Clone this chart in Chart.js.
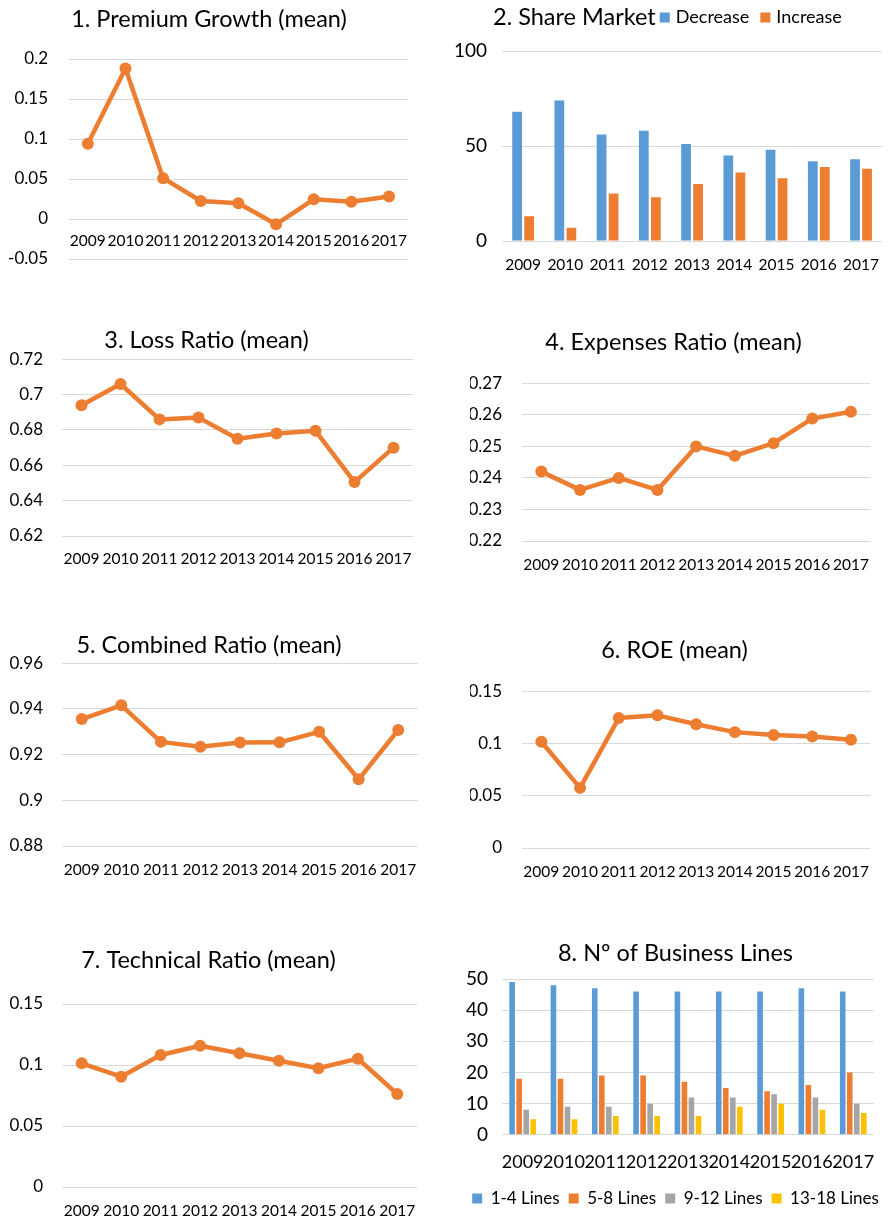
<!DOCTYPE html>
<html>
<head>
<meta charset="utf-8">
<title>Insurance sector indicators 2009-2017</title>
<script src="https://cdn.jsdelivr.net/npm/chart.js@4.4.1/dist/chart.umd.min.js"></script>
<style>
  html, body { margin: 0; padding: 0; background: #ffffff; }
  body { width: 894px; height: 1221px; position: relative; overflow: hidden; }
  canvas { position: absolute; display: block; }
</style>
</head>
<body>
<canvas id="c1"></canvas>
<canvas id="c2"></canvas>
<canvas id="c3"></canvas>
<canvas id="c4"></canvas>
<canvas id="c5"></canvas>
<canvas id="c6"></canvas>
<canvas id="c7"></canvas>
<canvas id="c8"></canvas>
<script>
// ---- data ----
const years = ['2009', '2010', '2011', '2012', '2013', '2014', '2015', '2016', '2017'];

const premiumGrowth  = [0.094, 0.188, 0.051, 0.0225, 0.0196, -0.0066, 0.0246, 0.0216, 0.028];
const shareDecrease  = [68, 74, 56, 58, 51, 45, 48, 42, 43];
const shareIncrease  = [13, 7, 25, 23, 30, 36, 33, 39, 38];
const lossRatio      = [0.694, 0.706, 0.686, 0.687, 0.675, 0.678, 0.6795, 0.6505, 0.670];
const expensesRatio  = [0.242, 0.2362, 0.240, 0.2362, 0.250, 0.247, 0.251, 0.2588, 0.261];
const combinedRatio  = [0.9356, 0.9416, 0.9256, 0.9235, 0.9253, 0.9254, 0.930, 0.9092, 0.9308];
const roe            = [0.102, 0.0577, 0.1247, 0.1273, 0.1187, 0.1112, 0.1084, 0.1071, 0.1038];
const technicalRatio = [0.1014, 0.0904, 0.1082, 0.1158, 0.1096, 0.1035, 0.0973, 0.1052, 0.0762];
const lines1to4      = [49, 48, 47, 46, 46, 46, 46, 47, 46];
const lines5to8      = [18, 18, 19, 19, 17, 15, 14, 16, 20];
const lines9to12     = [8, 9, 9, 10, 12, 12, 13, 12, 10];
const lines13to18    = [5, 5, 6, 6, 6, 9, 10, 8, 7];

// y-axis tick values per panel
const premiumTicks   = [-0.05, 0, 0.05, 0.1, 0.15, 0.2];
const shareTicks     = [0, 50, 100];
const lossTicks      = [0.62, 0.64, 0.66, 0.68, 0.7, 0.72];
const expensesTicks  = [0.22, 0.23, 0.24, 0.25, 0.26, 0.27];
const combinedTicks  = [0.88, 0.9, 0.92, 0.94, 0.96];
const roeTicks       = [0, 0.05, 0.1, 0.15];
const technicalTicks = [0, 0.05, 0.1, 0.15];
const linesTicks     = [0, 10, 20, 30, 40, 50];

// ---- styling ----
const BLUE = '#5B9BD5', ORANGE = '#ED7D31', GRAY = '#A5A5A5', YELLOW = '#FFC000';
const GRID = '#D9D9D9';
const FONT = 'Lato, "Open Sans", sans-serif';
const TITLE_SIZE = 23.5;

Chart.defaults.font.family = FONT;
Chart.defaults.color = '#000000';

function placeCanvas(id, g) {
  const c = document.getElementById(id);
  c.width = g.w; c.height = g.h;
  c.style.left = g.x + 'px'; c.style.top = g.y + 'px';
  c.style.width = g.w + 'px'; c.style.height = g.h + 'px';
  return c;
}

function yScale(ticks, g) {
  return {
    min: ticks[0],
    max: ticks[ticks.length - 1],
    grid: { color: GRID, lineWidth: 1, drawTicks: false },
    border: { display: false },
    ticks: { autoSkip: false, padding: g.yPad, font: { size: g.yFont }, color: '#000', callback: v => String(v) },
    afterBuildTicks: s => { s.ticks = ticks.map(v => ({ value: v })); },
    afterFit: s => { s.width = g.yW; }
  };
}

function xScale(g) {
  const sc = {
    offset: true,
    grid: { display: false, drawTicks: false },
    border: { display: false },
    ticks: { autoSkip: false, maxRotation: 0, padding: g.xPad, font: { size: g.xFont }, color: '#000' }
  };
  if (g.xAtZero) {
    sc.position = { y: 0 };
  } else {
    sc.afterFit = s => { s.height = g.xH; };
  }
  return sc;
}

function titleOpts(text, g) {
  return {
    display: true, text, color: '#000',
    font: { size: TITLE_SIZE, weight: 'normal' },
    padding: { top: g.tTop, bottom: g.tBottom }
  };
}

function lineChart(id, g, title, values, ticks) {
  return new Chart(placeCanvas(id, g), {
    type: 'line',
    data: {
      labels: years,
      datasets: [{
        data: values,
        borderColor: ORANGE,
        backgroundColor: ORANGE,
        borderWidth: 4.5,
        borderJoinStyle: 'round',
        borderCapStyle: 'round',
        pointRadius: 6,
        pointHoverRadius: 6,
        pointBorderWidth: 0,
        pointBackgroundColor: ORANGE,
        tension: 0
      }]
    },
    options: {
      responsive: false, animation: false, events: [],
      layout: { padding: { left: 0, top: 0, right: g.padR, bottom: g.padB || 0 } },
      plugins: { legend: { display: false }, tooltip: { enabled: false }, title: titleOpts(title, g) },
      scales: { x: xScale(g), y: yScale(ticks, g) }
    }
  });
}

// Title and legend drawn on one row, as in the "Share Market" header
const inlineHeader = {
  id: 'inlineHeader',
  afterDraw(chart, args, opts) {
    if (!opts || !opts.text) return;
    const ctx = chart.ctx;
    ctx.save();
    ctx.textBaseline = 'middle';
    ctx.textAlign = 'left';
    ctx.fillStyle = '#000';
    ctx.font = TITLE_SIZE + 'px ' + FONT;
    let x = opts.x;
    const y = opts.y;
    ctx.fillText(opts.text, x, y);
    x += ctx.measureText(opts.text).width + opts.gap;
    ctx.font = opts.labelSize + 'px ' + FONT;
    chart.data.datasets.forEach(ds => {
      ctx.fillStyle = ds.backgroundColor;
      ctx.fillRect(x, y - 5, 10, 10);
      x += 16;
      ctx.fillStyle = '#000';
      ctx.fillText(ds.label, x, y);
      x += ctx.measureText(ds.label).width + 11;
    });
    ctx.restore();
  }
};

// ---- panel 1: premium growth ----
lineChart('c1', { x: 0, y: 0, w: 420, h: 291, padR: 2, padB: 32, tTop: 4.9, tBottom: 25.9,
  yW: 69, yPad: 21, yFont: 17, xAtZero: true, xPad: 12.7, xFont: 15.5 },
  '1. Premium Growth (mean)', premiumGrowth, premiumTicks);

// ---- panel 2: share market ----
new Chart(placeCanvas('c2', { x: 447, y: 0, w: 447, h: 275 }), {
  type: 'bar',
  data: {
    labels: years,
    datasets: [
      { label: 'Decrease', data: shareDecrease, backgroundColor: BLUE, borderWidth: 0 },
      { label: 'Increase', data: shareIncrease, backgroundColor: ORANGE, borderWidth: 0 }
    ]
  },
  options: {
    responsive: false, animation: false, events: [],
    categoryPercentage: 0.57, barPercentage: 0.81,
    layout: { padding: { left: 0, top: 51, right: 5, bottom: 0 } },
    plugins: {
      legend: { display: false }, tooltip: { enabled: false }, title: { display: false },
      inlineHeader: { text: '2. Share Market', x: 46, y: 17.5, gap: 4, labelSize: 18 }
    },
    scales: {
      x: xScale({ xPad: 14.7, xFont: 15.5, xH: 34 }),
      y: yScale(shareTicks, { yPad: 15, yFont: 19, yW: 55 })
    }
  },
  plugins: [inlineHeader]
});

// ---- panel 3: loss ratio ----
lineChart('c3', { x: 0, y: 320, w: 436, h: 252, padR: 23, tTop: 6.7, tBottom: 4.4,
  yW: 62, yPad: 19, yFont: 17, xPad: 14, xFont: 15.5, xH: 36 },
  '3. Loss Ratio (mean)', lossRatio, lossTicks);

// ---- panel 4: expenses ratio ----
lineChart('c4', { x: 470, y: 320, w: 414, h: 257, padR: 7, tTop: 8.4, tBottom: 26.7,
  yW: 52, yPad: 20, yFont: 17, xPad: 14.7, xFont: 15.5, xH: 36 },
  '4. Expenses Ratio (mean)', expensesRatio, expensesTicks);

// ---- panel 5: combined ratio ----
lineChart('c5', { x: 0, y: 620, w: 436, h: 262, padR: 18, tTop: 10.9, tBottom: 4.2,
  yW: 62, yPad: 19, yFont: 17, xPad: 15, xFont: 15.5, xH: 36 },
  '5. Combined Ratio (mean)', combinedRatio, combinedTicks);

// ---- panel 6: ROE ----
lineChart('c6', { x: 470, y: 620, w: 414, h: 264, padR: 5, tTop: 15.9, tBottom: 27.6,
  yW: 52, yPad: 20, yFont: 17, xPad: 14.7, xFont: 15.5, xH: 36 },
  '6. ROE (mean)', roe, roeTicks);

// ---- panel 7: technical ratio ----
lineChart('c7', { x: 0, y: 930, w: 435, h: 291, padR: 18, tTop: 15.9, tBottom: 29.9,
  yW: 62, yPad: 19, yFont: 17, xPad: 14.7, xFont: 15.5, xH: 34 },
  '7. Technical Ratio (mean)', technicalRatio, technicalTicks);

// ---- panel 8: number of business lines ----
const g8 = { x: 460, y: 930, w: 431, h: 287, tTop: 8.9, tBottom: 11.9 };
new Chart(placeCanvas('c8', g8), {
  type: 'bar',
  data: {
    labels: years,
    datasets: [
      { label: '1-4 Lines',   data: lines1to4,   backgroundColor: BLUE,   borderWidth: 0 },
      { label: '5-8 Lines',   data: lines5to8,   backgroundColor: ORANGE, borderWidth: 0 },
      { label: '9-12 Lines',  data: lines9to12,  backgroundColor: GRAY,   borderWidth: 0 },
      { label: '13-18 Lines', data: lines13to18, backgroundColor: YELLOW, borderWidth: 0 }
    ]
  },
  options: {
    responsive: false, animation: false, events: [],
    categoryPercentage: 0.68, barPercentage: 0.8,
    layout: { padding: 0 },
    plugins: {
      tooltip: { enabled: false },
      title: titleOpts('8. N\u00BA of Business Lines', g8),
      legend: {
        display: true, position: 'bottom',
        labels: { boxWidth: 10, boxHeight: 10, padding: 9, color: '#000', font: { size: 17 } }
      }
    },
    scales: {
      x: xScale({ xPad: 16.2, xFont: 18, xH: 46.2 }),
      y: yScale(linesTicks, { yPad: 14, yFont: 19, yW: 42 }),
      // empty right-hand axis that only keeps the plot clear of the right edge
      edge: {
        type: 'linear', position: 'right', display: true,
        grid: { display: false, drawTicks: false },
        border: { display: false },
        ticks: { display: false },
        afterFit: s => { s.width = 12.3; }
      }
    }
  }
});
</script>
</body>
</html>
